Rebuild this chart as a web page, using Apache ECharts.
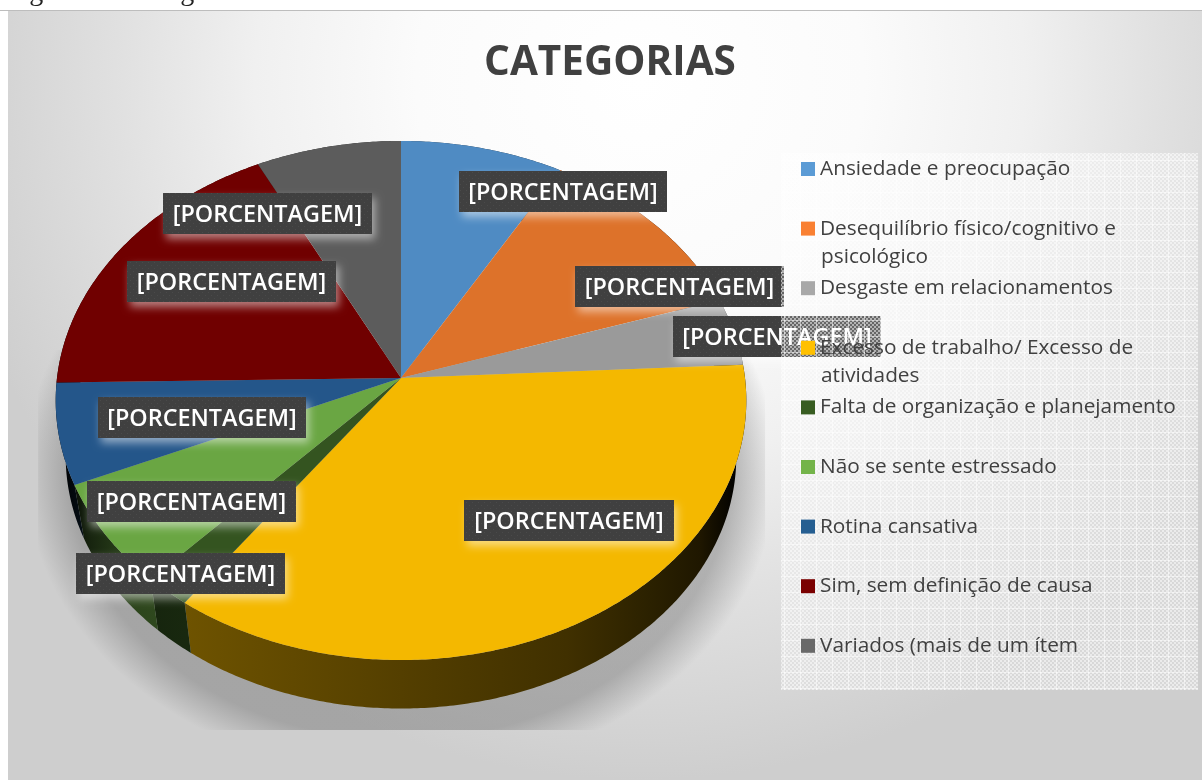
<!DOCTYPE html>
<html>
<head>
<meta charset="utf-8">
<title>Categorias</title>
<script src="https://cdn.jsdelivr.net/npm/echarts@6/dist/echarts.min.js"></script>
<style>
  html, body { margin: 0; padding: 0; background: #fff; overflow: hidden; }
  #main { width: 1202px; height: 780px; }
</style>
</head>
<body>
<div id="main"></div>
<script>
const categories = [
  "Ansiedade e preocupação",
  "Desequilíbrio físico/cognitivo e psicológico",
  "Desgaste em relacionamentos",
  "Excesso de trabalho/ Excesso de atividades",
  "Falta de organização e planejamento",
  "Não se sente estressado",
  "Rotina cansativa",
  "Sim, sem definição de causa",
  "Variados (mais de um ítem"
];
const values = [8.3, 11.7, 4.2, 35.8, 2.0, 6.5, 6.3, 17.9, 7.4];
const legendColors = ["#5b9bd5", "#f98032", "#a8a8a8", "#ffc000", "#385d22", "#74b44a", "#255e91", "#7a0000", "#696969"];
const sliceColors = ["#4f8bc3", "#dd722a", "#9a9a9a", "#f4b800", "#345420", "#6aa643", "#24568a", "#700000", "#5c5c5c"];
const sliceLabels = ["[PORCENTAGEM]", "[PORCENTAGEM]", "[PORCENTAGEM]", "[PORCENTAGEM]", "[PORCENTAGEM]", "[PORCENTAGEM]", "[PORCENTAGEM]", "[PORCENTAGEM]", "[PORCENTAGEM]"];
// second line of the legend entries that wrap
const legendWraps = ["psicológico", "atividades"];

// label boxes were placed by hand in the original: x, y, width
const labelBoxes = [[459, 171, 208], [575, 266, 209], [673, 316, 208], [464, 500, 210], [76, 553, 209], [87, 481, 209], [98, 397, 208], [127, 261, 209], [163, 193, 209]];

// tilted pie: a circle seen in perspective
const cx = 401, R = 344, persp = 0.0867, tiltA = -224.8, tiltB = 378;
const total = values.reduce((a, b) => a + b, 0);
const starts = [];
values.reduce((sum, v, i) => { starts[i] = sum; return sum + v; }, 0);

function rim(angle) {
  const u = Math.sin(angle), v = Math.cos(angle), w = 1 + persp * v;
  return [cx + R * u / w, (tiltA * v + tiltB) / w];
}
// the lower edge of the wall is the same ellipse, a bit smaller and further down
function lowerRim(p) {
  return [cx + (p[0] - cx) / 345 * 335, 456 + (p[1] - 400) / 259.5 * 252];
}
function arcPoints(i) {
  const a0 = starts[i] / total * Math.PI * 2, a1 = (starts[i] + values[i]) / total * Math.PI * 2;
  const n = Math.max(2, Math.ceil((a1 - a0) / 0.01));
  const pts = [];
  for (let k = 0; k <= n; k++) pts.push(rim(a0 + (a1 - a0) * k / n));
  return pts;
}
function shade(hex, f) {
  const n = parseInt(hex.slice(1), 16);
  return "rgb(" + [(n >> 16) & 255, (n >> 8) & 255, n & 255].map(c => Math.round(c * f)).join(",") + ")";
}
const wallLight = [[60, 0], [90, 0.2], [130, 0.38], [185, 0.43], [401, 0.33], [567, 0.25], [650, 0.17], [700, 0.12], [738, 0]];

function renderTop(i) {
  return function () {
    return {
      type: "polygon",
      shape: { points: [[cx, tiltB]].concat(arcPoints(i)) },
      style: { fill: sliceColors[i] }
    };
  };
}
function renderWall(params) {
  const i = params.dataIndex;
  const top = arcPoints(i);
  const bottom = top.map(lowerRim).reverse();
  const stops = wallLight.map(s => ({ offset: (s[0] - 60) / 680, color: shade(legendColors[i], s[1]) }));
  return {
    type: "polygon",
    shape: { points: top.concat(bottom) },
    style: { fill: new echarts.graphic.LinearGradient(60, 0, 740, 0, stops, true) }
  };
}

function makePattern(size, paint) {
  const c = document.createElement("canvas");
  c.width = c.height = size;
  paint(c.getContext("2d"));
  return { image: c, repeat: "repeat" };
}
const labelFill = makePattern(6, g => {
  g.fillStyle = "#404040"; g.fillRect(0, 0, 6, 6);
  g.fillStyle = "#4a4a4a"; g.fillRect(1, 1, 1, 1); g.fillRect(4, 4, 1, 1);
});
const panelFill = makePattern(16, g => {
  for (let y = 0; y < 16; y += 2) for (let x = 0; x < 16; x += 2) {
    g.fillStyle = (x + y) % 4 === 0 ? "rgba(255,255,255,0.6)" : "rgba(255,255,255,0.2)";
    g.fillRect(x, y, 2, 2);
  }
  g.fillStyle = "rgba(255,255,255,0.5)";
  g.fillRect(0, 0, 16, 1); g.fillRect(0, 0, 1, 16);
});

function renderLabel(params) {
  const i = params.dataIndex, b = labelBoxes[i];
  return {
    type: "group",
    children: [
      { type: "rect", shape: { x: b[0], y: b[1], width: b[2], height: 41 },
        style: { fill: labelFill, shadowColor: "rgba(255,255,255,0.5)", shadowBlur: 9, shadowOffsetX: 3, shadowOffsetY: 5 } },
      { type: "text", style: { x: b[0] + b[2] / 2, y: b[1] + 22, text: sliceLabels[i], fill: "#fff",
        font: "600 23.4px 'Open Sans'", align: "center", verticalAlign: "middle" } }
    ]
  };
}

const chart = echarts.init(document.getElementById("main"));
chart.setOption({
  animation: false,
  backgroundColor: "#fff",
  title: {
    text: "CATEGORIAS", left: 605, top: 38, textAlign: "center", z: 6,
    textStyle: { fontFamily: "Open Sans", fontWeight: 700, fontSize: 40.5, color: "#404040" }
  },
  legend: {
    orient: "vertical", left: 801, top: 155, padding: 0, z: 6, icon: "rect", itemWidth: 14, itemHeight: 14, itemGap: 31.6,
    selectedMode: false, data: categories,
    formatter: name => legendWraps.reduce((t, w) => t.replace(" " + w, ""), name),
    textStyle: { fontFamily: "Open Sans", fontSize: 20.8, color: "#404040", lineHeight: 28 }
  },
  graphic: { elements: [
    { type: "rect", z: 0, silent: true, shape: { x: 8, y: 11, width: 1194, height: 769 },
      style: { fill: { type: "radial", x: 640, y: 80, r: 700, global: true, colorStops: [
        { offset: 0, color: "#ffffff" }, { offset: 0.32, color: "#fbfbfb" }, { offset: 0.55, color: "#f0f0f0" },
        { offset: 0.75, color: "#e0e0e0" }, { offset: 1, color: "#cecece" }] } } },
    { type: "rect", z: 0, silent: true, shape: { x: 0, y: 10, width: 1202, height: 1 }, style: { fill: "#bdbdbd" } },
    // soft shadow under the pie, hard cut at its box
    { type: "rect", z: 1, silent: true, x: cx, y: 470, scaleX: 1.23, shape: { x: -295, y: -120, width: 591, height: 380 },
      style: { fill: { type: "radial", x: 0, y: 0, r: 306, global: true, colorStops: [
        { offset: 0, color: "rgba(120,120,120,0.48)" }, { offset: 0.88, color: "rgba(120,120,120,0.48)" },
        { offset: 1, color: "rgba(120,120,120,0)" }] } } },
    { type: "rect", z: 5, silent: true, shape: { x: 781, y: 153, width: 417, height: 537 }, style: { fill: panelFill } },
    { type: "text", z: 6, silent: true, x: 821, y: 257, style: { text: legendWraps[0], fill: "#404040", font: "20.8px 'Open Sans'", verticalAlign: "middle" } },
    { type: "text", z: 6, silent: true, x: 821, y: 376, style: { text: legendWraps[1], fill: "#404040", font: "20.8px 'Open Sans'", verticalAlign: "middle" } },
    { type: "text", z: 6, silent: true, x: 6, y: -21, style: { text: "Figura 14: Categorias", fill: "#222", font: "28px 'Liberation Serif'" } }
  ] },
  series: [
    { type: "custom", coordinateSystem: "none", z: 2, silent: true, renderItem: renderWall, data: values }
  ].concat(categories.map((name, i) => ({
    type: "custom", name, coordinateSystem: "none", z: 3, silent: true,
    itemStyle: { color: legendColors[i] }, renderItem: renderTop(i), data: [values[i]]
  }))).concat([
    { type: "custom", coordinateSystem: "none", z: 4, silent: true, renderItem: renderLabel, data: sliceLabels.map((t, i) => i) }
  ])
});
</script>
</body>
</html>
